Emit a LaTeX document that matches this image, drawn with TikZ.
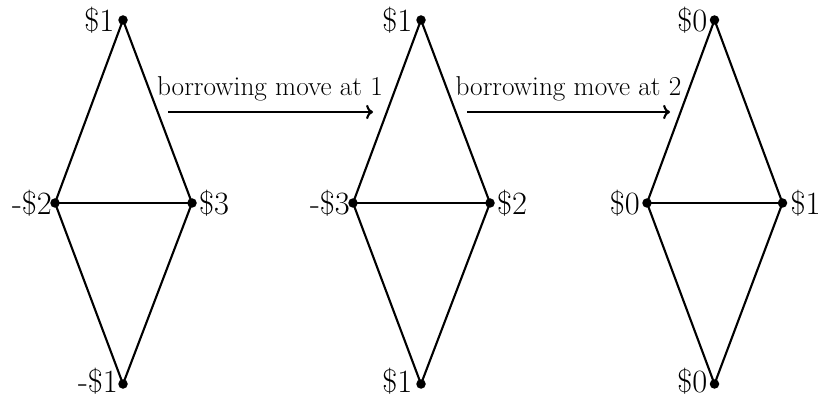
\documentclass[tikz,border=0pt]{standalone}
\usetikzlibrary{arrows.meta}
\begin{document}
\begin{tikzpicture}[x=1pt,y=-1pt,
  dot/.style={circle,fill=black,inner sep=0pt,minimum size=9.5pt},
  edge/.style={line width=2.1pt},
  lab/.style={inner sep=0pt,font=\fontsize{32.5}{34}\selectfont},
  mv/.style={line width=2.1pt,-{To[scale=1.1]}},
  mvlab/.style={inner sep=0pt,anchor=base,font=\fontsize{27.3}{29}\selectfont}]
\useasboundingbox (0,0) rectangle (819,398);
% diamond 1
\node[dot] (a1) at (123,20) {};
\node[dot] (b1) at (55,203) {};
\node[dot] (c1) at (192,203) {};
\node[dot] (d1) at (123,384) {};
% diamond 2
\node[dot] (a2) at (421,20) {};
\node[dot] (b2) at (353,203) {};
\node[dot] (c2) at (490,203) {};
\node[dot] (d2) at (421,384) {};
% diamond 3
\node[dot] (a3) at (714.5,20) {};
\node[dot] (b3) at (647,203) {};
\node[dot] (c3) at (782.5,203) {};
\node[dot] (d3) at (714.5,384) {};
\foreach \i in {1,2,3}{
  \draw[edge] (a\i.center) -- (b\i.center) -- (d\i.center) -- (c\i.center) -- (a\i.center);
  \draw[edge] (b\i.center) -- (c\i.center);
}
% labels
\node[lab,anchor=east] (la1) at ([xshift=-8.5pt]a1.center) {\$1};
\node[lab,anchor=east] (lb1) at ([xshift=-3pt]b1.center) {-\$2};
\node[lab,anchor=west] (lc1) at ([xshift=7pt]c1.center) {\$3};
\node[lab,anchor=east] (ld1) at ([xshift=-5pt,yshift=3pt]d1.center) {-\$1};
\node[lab,anchor=east] (la2) at ([xshift=-8.5pt]a2.center) {\$1};
\node[lab,anchor=east] (lb2) at ([xshift=-3pt]b2.center) {-\$3};
\node[lab,anchor=west] (lc2) at ([xshift=7pt]c2.center) {\$2};
\node[lab,anchor=east] (ld2) at ([xshift=-8.5pt,yshift=3pt]d2.center) {\$1};
\node[lab,anchor=east] (la3) at ([xshift=-7pt]a3.center) {\$0};
\node[lab,anchor=east] (lb3) at ([xshift=-7pt]b3.center) {\$0};
\node[lab,anchor=west] (lc3) at ([xshift=8pt]c3.center) {\$1};
\node[lab,anchor=east] (ld3) at ([xshift=-7pt,yshift=3pt]d3.center) {\$0};
% moves
\coordinate (m1s) at (168,112);
\coordinate (m1e) at (373,112);
\coordinate (m2s) at (467,112);
\coordinate (m2e) at (670,112);
\draw[mv] (m1s) -- (m1e);
\draw[mv] (m2s) -- (m2e);
\node[mvlab] (t1) at (270,96) {borrowing move at 1};
\node[mvlab] (t2) at (568.5,96) {borrowing move at 2};
\end{tikzpicture}
\end{document}
